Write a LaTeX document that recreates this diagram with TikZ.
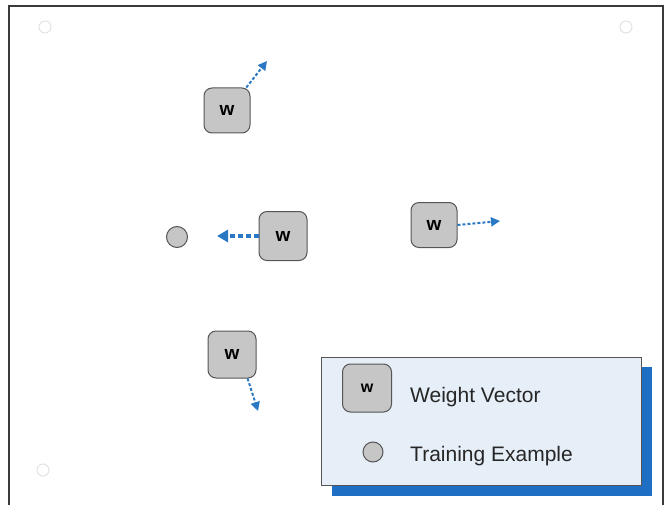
\documentclass[tikz,border=0pt]{standalone}
\usepackage{fontspec}
\setmainfont{Liberation Sans}
\usetikzlibrary{arrows.meta}
\definecolor{boxgray}{HTML}{C6C6C6}
\definecolor{edgegray}{HTML}{555555}
\definecolor{arrowblue}{HTML}{2A78C4}
\definecolor{legendfill}{HTML}{E6EEF8}
\definecolor{shadowblue}{HTML}{1E6EC3}
\definecolor{framegray}{HTML}{3A3A3A}
\definecolor{markgray}{HTML}{E2E2E2}
\tikzset{
  wbox/.style={draw=edgegray, fill=boxgray, line width=1pt, rounded corners=8pt,
    minimum width=46pt, minimum height=45pt, inner sep=0pt,
    font=\fontsize{19}{19}\selectfont\bfseries},
  example/.style={circle, draw=edgegray, fill=boxgray, line width=1pt,
    minimum size=21pt, inner sep=0pt},
  move/.style={draw=arrowblue, line width=2pt, dash pattern=on 3pt off 2pt,
    -{Triangle[length=9pt,width=9pt]}},
  bigmove/.style={draw=arrowblue, line width=3.2pt, dash pattern=on 5pt off 3pt,
    -{Triangle[length=11pt,width=12pt]}},
  corner/.style={circle, draw=markgray, line width=1pt, minimum size=12pt, inner sep=0pt},
  label/.style={anchor=west, inner sep=0pt, font=\fontsize{21}{21}\selectfont, text=black!85}
}
\begin{document}
\begin{tikzpicture}[x=1pt, y=-1pt]
  \useasboundingbox (0,0) rectangle (666,505);
  % page frame (open at the bottom)
  \draw[framegray, line width=1.5pt] (9,505) -- (9,6) -- (663,6) -- (663,505);
  % registration marks
  \node[corner] (m1) at (45,27) {};
  \node[corner] (m2) at (626,27) {};
  \node[corner] (m3) at (43,470) {};

  % weight vectors and their updates
  \node[wbox] (w1) at (227,110.5) {w};
  \node[wbox, minimum width=48pt, minimum height=49pt] (w2) at (283,236) {w};
  \node[wbox] (w3) at (434,225) {w};
  \node[wbox, minimum width=48pt, minimum height=47pt] (w4) at (232,354.5) {w};
  \node[example] (x1) at (177,237) {};

  \coordinate (t1) at (267,61);
  \coordinate (t2) at (217,236);
  \coordinate (t3) at (500,221);
  \coordinate (t4) at (258,411);

  \draw[move] (w1.50) -- (t1);
  \draw[bigmove] (w2.west) -- (t2);
  \draw[move] (w3.east) -- (t3);
  \draw[move] (w4.-57) -- (t4);

  % legend
  \fill[shadowblue] (332,367) rectangle (652,496);
  \draw[edgegray, fill=legendfill, line width=1pt] (321,357) rectangle (641,485);
  \node[wbox, minimum width=49pt, minimum height=48pt, font=\fontsize{16}{16}\selectfont\bfseries] (lw) at (367,388) {w};
  \node[example, minimum size=20pt] (lx) at (373,452) {};
  \node[label] (lwt) at (410,397) {Weight Vector};
  \node[label] (lxt) at (410,456) {Training Example};
\end{tikzpicture}
\end{document}
